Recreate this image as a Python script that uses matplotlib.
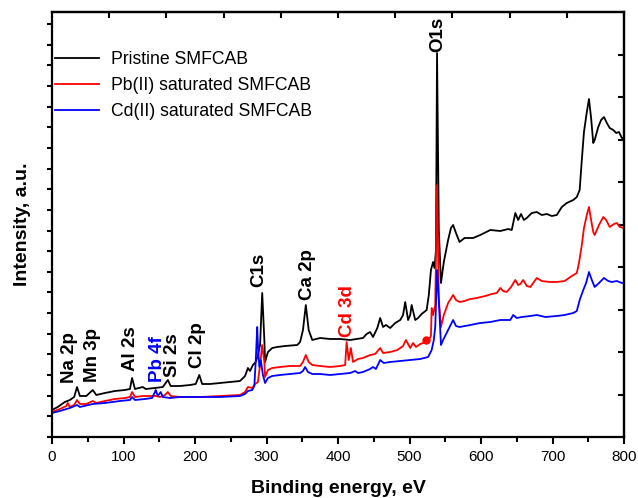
import matplotlib
matplotlib.use("Agg")
import matplotlib.pyplot as plt
import numpy as np

plt.rcParams['font.family'] = ['Liberation Sans', 'DejaVu Sans']

# Binding energy (eV) and intensity (a.u.)
pristine_x = [0, 8, 18, 25, 31, 35, 39, 48, 57, 62, 74, 88, 102, 109, 112, 116, 127, 131, 144, 155,
              162, 166, 179, 193, 201, 206, 210, 221, 235, 249, 263, 270, 274, 277, 281, 285, 288, 291,
              294, 297, 298, 302, 308, 315, 326, 343, 347, 351, 355, 359, 364, 375, 389, 403, 417, 435,
              440, 445, 449, 455, 459, 463, 467, 473, 480, 487, 491, 494, 498, 501, 503, 508, 512, 517,
              524, 527, 530, 533, 535, 537, 538.5, 541, 544, 548, 554, 558, 561, 565, 570, 577, 589, 599,
              613, 627, 638, 643, 648, 652, 656, 660, 664, 671, 678, 685, 692, 699, 706, 713, 720, 729,
              734, 738, 741, 744, 748, 751, 754, 757, 759, 764, 768, 772, 776, 780, 785, 789, 793, 797, 800]
pristine_y = [27, 30, 35, 37, 40, 50, 41, 41, 47, 42, 44, 46, 47, 48, 59, 48, 50, 48, 49, 50,
              57, 51, 51, 52, 53, 62, 53, 53, 54, 55, 56, 61, 69, 66, 72, 75, 82, 92,
              144, 97, 75, 85, 89, 90, 91, 92, 95, 107, 132, 107, 97, 99, 98, 98, 97, 99,
              103, 105, 100, 109, 119, 110, 112, 109, 114, 117, 122, 135, 117, 122, 132, 117, 119, 123,
              127, 142, 167, 175, 169, 187, 384, 207, 154, 175, 197, 209, 212, 204, 195, 199, 199, 202,
              207, 206, 208, 207, 224, 217, 223, 217, 219, 224, 225, 222, 223, 221, 222, 230, 234, 237,
              240, 247, 277, 305, 325, 338, 319, 294, 297, 310, 317, 320, 314, 309, 307, 304, 305, 299, 299]

pb_x = [0, 11, 20, 22, 25, 31, 35, 39, 48, 57, 62, 74, 88, 102, 109, 112, 116, 127, 137, 145, 151,
        158, 162, 166, 179, 207, 235, 263, 270, 274, 280, 284, 288, 291, 294, 297, 298, 302, 308, 319,
        333, 347, 351, 355, 359, 364, 375, 389, 403, 410, 412, 415, 418, 421, 428, 435, 445, 452, 459,
        463, 473, 483, 491, 495, 501, 505, 509, 515, 519, 526, 530, 531, 533, 536, 538.5, 541, 544,
        548, 554, 561, 565, 570, 577, 585, 594, 606, 615, 622, 627, 631, 636, 642, 648, 652, 655, 659,
        664, 669, 678, 685, 696, 706, 717, 727, 734, 737, 741, 744, 748, 751, 754, 757, 759, 765, 771,
        775, 780, 786, 790, 794, 800]
pb_y = [25, 28, 31, 34, 30, 32, 37, 33, 33, 36, 34, 36, 38, 39, 40, 45, 40, 41, 41, 41, 40,
        42, 45, 41, 40, 40, 41, 42, 45, 50, 49, 53, 55, 72, 92, 75, 60, 67, 69, 70,
        71, 71, 75, 82, 75, 72, 71, 70, 71, 72, 95, 77, 89, 75, 78, 79, 82, 83, 89,
        84, 85, 87, 91, 97, 89, 94, 90, 93, 94, 96, 101, 129, 122, 132, 252, 137, 110,
        122, 134, 142, 137, 135, 136, 138, 139, 141, 143, 144, 149, 146, 145, 150, 157, 152, 153, 157,
        151, 150, 159, 156, 155, 155, 156, 161, 164, 174, 192, 209, 222, 230, 217, 205, 202, 212, 220,
        217, 210, 213, 214, 210, 209]

cd_x = [0, 11, 25, 35, 39, 57, 74, 95, 109, 112, 116, 130, 140, 144, 145, 148, 152, 155, 165, 179,
        207, 235, 263, 270, 274, 280, 283, 285, 287, 288, 290, 292, 295, 298, 302, 308, 319, 333, 347,
        351, 354, 358, 364, 375, 389, 403, 417, 424, 428, 435, 445, 449, 453, 459, 464, 473, 487, 501,
        515, 526, 531, 534, 536, 538.5, 541, 544, 547, 554, 561, 565, 570, 585, 599, 613, 627, 641,
        645, 650, 657, 669, 678, 690, 706, 717, 729, 734, 738, 743, 747, 751, 755, 759, 765, 772, 778,
        783, 790, 797, 800]
cd_y = [24, 26, 29, 32, 30, 33, 34, 36, 37, 40, 37, 38, 39, 45, 47, 41, 45, 40, 39, 40,
        40, 40, 41, 43, 46, 47, 51, 77, 110, 92, 70, 77, 62, 54, 59, 61, 62, 63, 64,
        66, 70, 65, 63, 63, 62, 63, 64, 66, 64, 65, 68, 70, 68, 77, 74, 75, 76, 77,
        78, 80, 87, 97, 110, 167, 137, 92, 97, 107, 117, 111, 110, 112, 114, 115, 117, 117,
        122, 119, 120, 121, 122, 120, 121, 122, 124, 126, 137, 147, 154, 165, 157, 150, 154, 159, 156,
        155, 156, 154, 154]

series_labels = ['Pristine SMFCAB', 'Pb(II) saturated SMFCAB', 'Cd(II) saturated SMFCAB']

marker_x = [523]
marker_y = [97]

peak_labels = ['Na 2p', 'Mn 3p', 'Al 2s', 'Pb 4f', 'Si 2s', 'Cl 2p', 'C1s', 'Ca 2p', 'Cd 3d', 'O1s']
peak_x = [25, 57, 110, 147, 169, 203, 289, 357, 413, 540]
peak_y = [54, 55, 66, 55, 60, 69, 150, 137, 100, 385]
peak_colors = ['black', 'black', 'black', 'blue', 'black', 'black', 'black', 'black', 'red', 'black']

x_ticks = [0, 100, 200, 300, 400, 500, 600, 700, 800]

fig = plt.figure(figsize=(6.38, 4.98), dpi=100)
ax = fig.add_axes([52/638, 61/498, 572/638, 425/498])

ax.plot(pristine_x, pristine_y, color='black', lw=1.3, label=series_labels[0])
ax.plot(pb_x, pb_y, color='red', lw=1.3, label=series_labels[1])
ax.plot(cd_x, cd_y, color='blue', lw=1.3, label=series_labels[2])
ax.plot(marker_x, marker_y, 'o', color='red', ms=5)

for lab, px, py, c in zip(peak_labels, peak_x, peak_y, peak_colors):
    ax.text(px, py, lab, rotation=90, ha='center', va='bottom', color=c,
            fontsize=13.5, fontweight='bold')

ax.set_xlim(0, 800)
ax.set_ylim(0, 425)
ax.set_xticks(x_ticks)
ax.set_xticklabels([str(t) for t in x_ticks])
ax.set_xticks(np.arange(50, 800, 100), minor=True)
ax.set_yticks(np.arange(0, 420, 20.65))
ax.set_yticklabels([])
ax.tick_params(axis='x', which='major', direction='out', length=5, width=1.5, labelsize=11, pad=4)
ax.tick_params(axis='x', which='minor', direction='out', length=3.5, width=1.5)
ax.tick_params(axis='y', which='major', direction='out', length=3.5, width=1.5)

for s in ax.spines.values():
    s.set_linewidth(1.6)

top = ax.secondary_xaxis('top')
top.set_xticks(np.arange(80, 800, 80))
top.set_xticklabels([])
top.tick_params(direction='in', length=4, width=1.5)
top.spines['top'].set_linewidth(1.6)

right = ax.secondary_yaxis('right')
right.set_yticks(np.arange(42.5, 420, 42.5))
right.set_yticklabels([])
right.tick_params(direction='in', length=4, width=1.5)
right.spines['right'].set_linewidth(1.6)

ax.set_xlabel('Binding energy, eV', fontsize=14, fontweight='bold', labelpad=12)
ax.set_ylabel('Intensity, a.u.', fontsize=14, fontweight='bold', labelpad=8)

ax.legend(loc='upper left', bbox_to_anchor=(0.005, 0.908), frameon=False, fontsize=12.7,
          handlelength=2.5, handletextpad=0.7, labelspacing=0.52, borderpad=0, borderaxespad=0)

fig.savefig('out.png', dpi=100)
